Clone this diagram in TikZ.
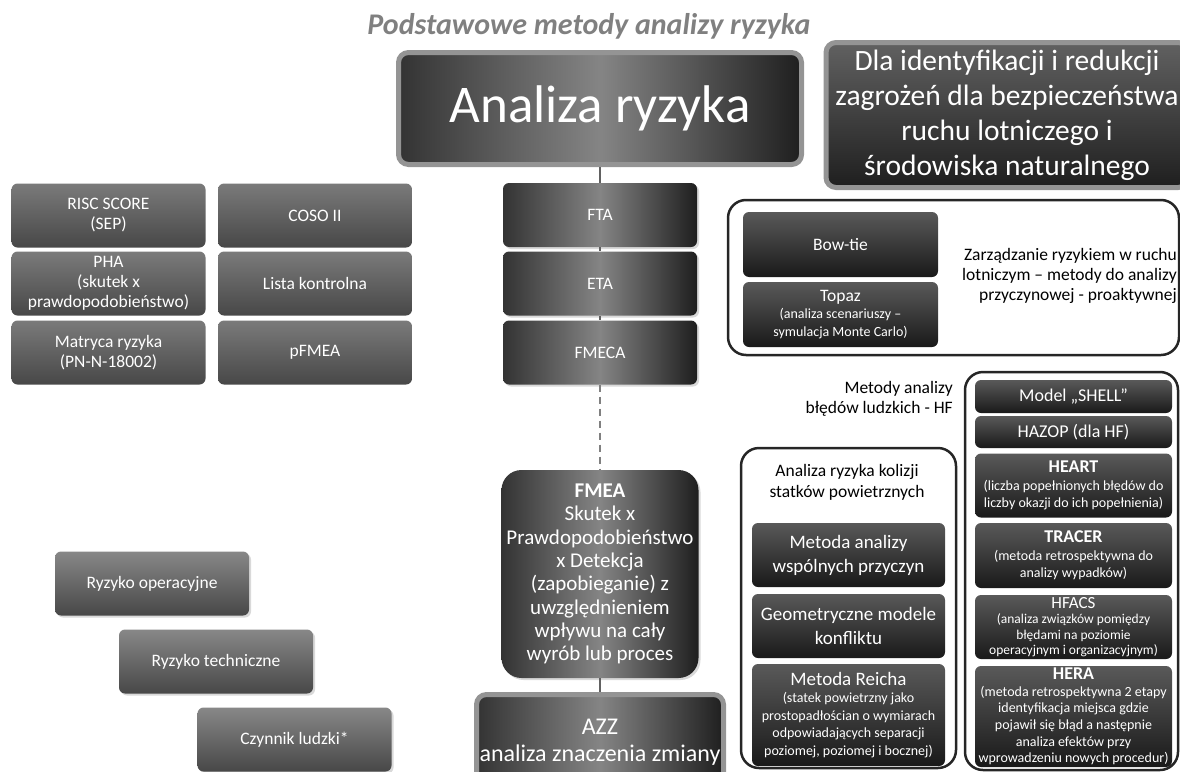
\documentclass[tikz,border=0pt]{standalone}
\usepackage{fontspec}
\setmainfont{Carlito}
\usetikzlibrary{shadows}

\newcommand{\tytulcol}{black!50}
\newcommand{\ramkacol}{black!42}
\newcommand{\liniacol}{black!62}
\newcommand{\maly}{\fontsize{14}{17.5}\selectfont}

\tikzset{
  pole/.style={rounded corners=6pt, text=white, align=flush center, inner xsep=2pt, inner ysep=1pt},
  cien/.style={drop shadow={shadow xshift=2pt, shadow yshift=-2pt, opacity=0.3}},
  metal/.style={pole, cien, left color=black!80, right color=black!88, middle color=black!48},
  szary/.style={pole, top color=black!52, bottom color=black!72},
  jasny/.style={pole, cien, top color=black!47, bottom color=black!72},
  ciemny/.style={pole, top color=black!65, bottom color=black!90},
  kafel/.style={text width=190pt, minimum height=64pt, font=\fontsize{17.5}{20}\selectfont},
  hfkafel/.style={text width=195pt, inner xsep=1pt, font=\fontsize{18}{21}\selectfont},
  kolkafel/.style={text width=189pt, minimum height=64pt, font=\fontsize{19}{24}\selectfont},
  grupa/.style={draw=black!85, line width=2.5pt, rounded corners=18pt, inner sep=0pt},
  link/.style={draw=\liniacol, line width=1.5pt},
  opis/.style={inner sep=0pt, font=\fontsize{17.5}{20}\selectfont},
}

\begin{document}
\begin{tikzpicture}[x=1pt, y=-1pt]
  \useasboundingbox (0, 0) rectangle (1180, 771);
  \clip (0, 0) rectangle (1180, 771);

  \node[text=\tytulcol, font=\fontsize{30}{34}\selectfont\bfseries\itshape] (tytul) at (589, 26) {Podstawowe metody analizy ryzyka};

  % glowny blok i cel
  \node[metal, draw=\ramkacol, line width=5pt, rounded corners=10pt, text width=399pt, minimum height=112pt, font=\fontsize{53}{60}\selectfont] (analiza) at (600, 108.5) {Analiza ryzyka};
  \node[pole, top color=black!62, bottom color=black!88, draw=\ramkacol, line width=5pt, rounded corners=10pt, minimum width=362pt, minimum height=145pt, font=\fontsize{29.5}{35}\selectfont] (cel) at (1007, 115) {Dla identyfikacji i redukcji\\zagrożeń dla bezpieczeństwa\\ruchu lotniczego i\\środowiska naturalnego};

  % metody po lewej
  \node[szary, kafel] (risc) at (108.5, 215.5) {RISC SCORE\\(SEP)};
  \node[szary, kafel] (pha) at (108.5, 283.5) {PHA\\(skutek x\\prawdopodobieństwo)};
  \node[szary, kafel] (matryca) at (108.5, 352.5) {Matryca ryzyka\\(PN-N-18002)};
  \node[szary, kafel] (coso) at (315, 215.5) {COSO II};
  \node[szary, kafel] (lista) at (315, 283.5) {Lista kontrolna};
  \node[szary, kafel] (pfmea) at (315, 352.5) {pFMEA};

  % kolumna srodkowa
  \node[metal, kafel] (fta) at (600, 215) {FTA};
  \node[metal, kafel] (eta) at (600, 283.5) {ETA};
  \node[metal, kafel] (fmeca) at (600, 352.5) {FMECA};
  \node[metal, text width=195pt, inner xsep=1pt, minimum height=208pt, rounded corners=20pt, font=\fontsize{21}{23.3}\selectfont] (fmea) at (600, 574) {\textbf{FMEA}\\Skutek x\\Prawdopodobieństwo\\x Detekcja\\(zapobieganie) z\\uwzględnieniem\\wpływu na cały\\wyrób lub proces};
  \node[metal, draw=\ramkacol, line width=5pt, rounded corners=10pt, text width=243pt, minimum height=95pt, font=\fontsize{24}{27}\selectfont] (azz) at (600, 742) {AZZ\\analiza znaczenia zmiany};

  \draw[link] (analiza) -- (fta);
  \draw[link] (fta) -- (eta);
  \draw[link] (eta) -- (fmeca);
  \draw[link, draw=black!50, dash pattern=on 7pt off 5pt] (fmeca) -- (fmea);
  \draw[link] (fmea) -- (azz);

  % czynniki ryzyka
  \node[jasny, kafel] (operacyjne) at (152, 583.5) {Ryzyko operacyjne};
  \node[jasny, kafel] (techniczne) at (216, 661.5) {Ryzyko techniczne};
  \node[jasny, kafel] (ludzki) at (294.5, 739.5) {Czynnik ludzki*};

  % zarzadzanie ryzykiem
  \node[grupa, minimum width=451pt, minimum height=155pt] (zarzadzanie) at (953.5, 277.5) {};
  \node[ciemny, kafel, text width=191pt, minimum height=65pt] (bowtie) at (840.5, 244.5) {Bow-tie};
  \node[ciemny, kafel, text width=191pt, minimum height=65pt] (topaz) at (840.5, 314.5) {Topaz\par\maly (analiza scenariuszy –\\symulacja Monte Carlo)\par};
  \node[opis, anchor=east, align=right] (zarzopis) at (1177, 276) {Zarządzanie ryzykiem w ruchu\\lotniczym – metody do analizy\\przyczynowej - proaktywnej};

  % bledy ludzkie
  \node[opis, anchor=east, align=right] (hfopis) at (953, 399) {Metody analizy\\błędów ludzkich - HF};
  \node[grupa, minimum width=213pt, minimum height=398pt] (hf) at (1071.5, 571) {};
  \node[ciemny, hfkafel, minimum height=33pt] (shell) at (1073.5, 396.5) {Model „SHELL”};
  \node[ciemny, hfkafel, minimum height=32pt] (hazop) at (1073.5, 432) {HAZOP (dla HF)};
  \node[ciemny, hfkafel, minimum height=64pt] (heart) at (1073.5, 485.5) {\textbf{HEART}\par\maly (liczba popełnionych błędów do\\liczby okazji do ich popełnienia)\par};
  \node[ciemny, hfkafel, minimum height=65pt] (tracer) at (1073.5, 555.5) {\textbf{TRACER}\par\maly (metoda retrospektywna do\\analizy wypadków)\par};
  \node[ciemny, hfkafel, minimum height=64pt, inner ysep=0pt, font=\fontsize{17}{19}\selectfont] (hfacs) at (1073.5, 627) {HFACS\par\fontsize{13.5}{15.3}\selectfont (analiza związków pomiędzy\\błędami na poziomie\\operacyjnym i organizacyjnym)\par};
  \node[ciemny, hfkafel, minimum height=101pt, inner ysep=0pt] (hera) at (1073.5, 716.5) {\textbf{HERA}\par\fontsize{14}{16.6}\selectfont (metoda retrospektywna 2 etapy\\identyfikacja miejsca gdzie\\pojawił się błąd a następnie\\analiza efektów przy\\wprowadzeniu nowych procedur)\par};

  % kolizje
  \node[grupa, minimum width=215pt, minimum height=320pt] (kolizje) at (848.5, 608) {};
  \node[opis, align=center, font=\fontsize{17.5}{21}\selectfont] (kolopis) at (847, 482) {Analiza ryzyka kolizji\\statków powietrznych};
  \node[ciemny, kolkafel] (wspolne) at (848.5, 555) {Metoda analizy\\wspólnych przyczyn};
  \node[ciemny, kolkafel] (geom) at (848.5, 626) {Geometryczne modele\\konfliktu};
  \node[ciemny, kolkafel, minimum height=102pt] (reich) at (848.5, 715) {Metoda Reicha\par\maly (statek powietrzny jako\\prostopadłościan o wymiarach\\odpowiadających separacji\\poziomej, poziomej i bocznej)\par};

\end{tikzpicture}
\end{document}
